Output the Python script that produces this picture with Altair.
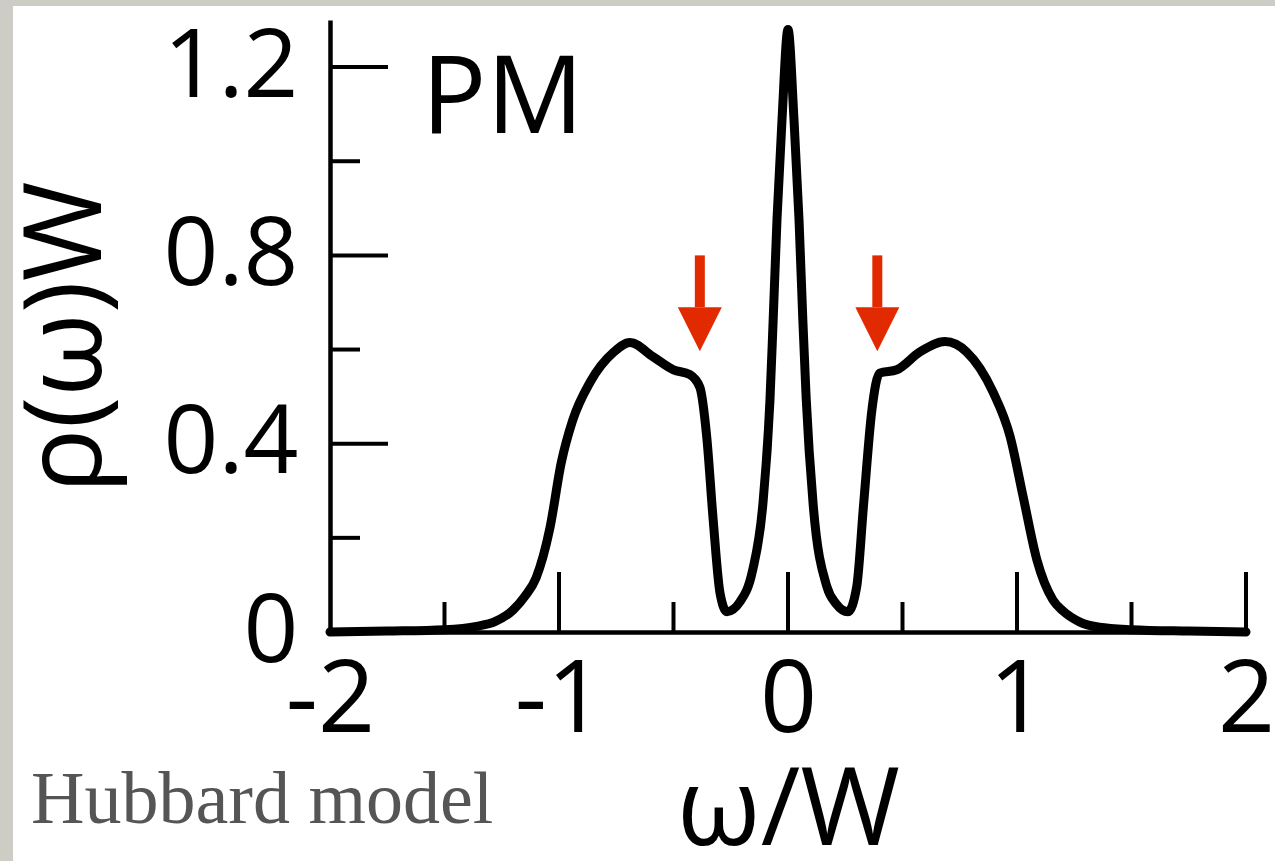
import altair as alt
import pandas as pd

# ---- data ----
omega = [-2.0, -1.75, -1.5, -1.36, -1.28, -1.2, -1.15, -1.1, -1.04, -0.99, -0.94, -0.865,
         -0.76, -0.69, -0.59, -0.5, -0.43, -0.385, -0.355, -0.327, -0.297, -0.267, -0.21,
         -0.155, -0.11, -0.079, -0.065, -0.048, -0.026, 0.0,
         0.026, 0.048, 0.065, 0.079, 0.11, 0.17, 0.21, 0.262, 0.30, 0.33, 0.366, 0.40,
         0.475, 0.576, 0.686, 0.78, 0.895, 0.97, 1.027, 1.087, 1.157, 1.2, 1.275, 1.36,
         1.5, 1.75, 2.0]
rho = [0.0, 0.002, 0.005, 0.012, 0.022, 0.047, 0.075, 0.115, 0.22, 0.36, 0.45, 0.53,
       0.595, 0.615, 0.585, 0.557, 0.547, 0.52, 0.415, 0.24, 0.083, 0.043, 0.064,
       0.13, 0.27, 0.49, 0.66, 0.877, 1.09, 1.28,
       1.09, 0.877, 0.66, 0.5, 0.27, 0.096, 0.06, 0.043, 0.096, 0.27, 0.47, 0.55,
       0.557, 0.595, 0.617, 0.595, 0.51, 0.415, 0.287, 0.153, 0.068, 0.045, 0.021, 0.01,
       0.005, 0.002, 0.0]

x_major = [-1, 0, 1, 2]
x_minor = [-1.5, -0.5, 0.5, 1.5]
y_major = [0.4, 0.8, 1.2]
y_minor = [0.2, 0.6, 1.0]
x_labels = [-2, -1, 0, 1, 2]
y_labels = [0, 0.4, 0.8, 1.2]

arrow_x = [-0.385, 0.39]
arrow_top = [0.80, 0.80]
arrow_base = [0.69, 0.69]
arrow_head = [0.643, 0.643]

W, H = 916, 612
PAD = {"left": 330, "top": 20, "right": 29, "bottom": 229}
FONT = "Open Sans"
RED = "#e22a00"

curve = pd.DataFrame({"w": omega, "r": rho})
xs = alt.Scale(domain=[-2, 2], nice=False, zero=False)
ys = alt.Scale(domain=[0, 1.3], nice=False, zero=False)

panel = alt.Chart(pd.DataFrame({"a": [0]})).mark_rect(color="white").encode(
    x=alt.value(13 - PAD["left"]), x2=alt.value(W + PAD["right"]),
    y=alt.value(6 - PAD["top"]), y2=alt.value(H + PAD["bottom"]))

line = alt.Chart(curve).mark_line(
    color="black", strokeWidth=9, interpolate="monotone", strokeJoin="round", strokeCap="round"
).encode(
    x=alt.X("w:Q", scale=xs, axis=alt.Axis(
        title="ω/W", values=x_labels, labelExpr="datum.value + ''", ticks=False, grid=False,
        labelPadding=20, labelFontSize=100, titlePadding=8, titleFontSize=108, zindex=2)),
    y=alt.Y("r:Q", scale=ys, axis=alt.Axis(
        title="ρ(ω)W", values=y_labels, labelExpr="datum.value + ''", ticks=False, grid=False,
        labelPadding=32, titleX=-262, titleY=317, titleAlign="center", titleBaseline="middle",
        titleAngle=-90, titleFontSize=108, zindex=2)),
)

def ticks_x(vals, length):
    return alt.Chart(pd.DataFrame({"v": vals})).mark_rule(color="black", strokeWidth=4).encode(
        x=alt.X("v:Q", scale=xs), y=alt.value(H), y2=alt.value(H - length))

def ticks_y(vals, length):
    return alt.Chart(pd.DataFrame({"v": vals})).mark_rule(color="black", strokeWidth=4).encode(
        y=alt.Y("v:Q", scale=ys), x=alt.value(0), x2=alt.value(length))

arrows = pd.DataFrame({"x": arrow_x, "top": arrow_top, "base": arrow_base, "head": arrow_head})
shaft = alt.Chart(arrows).mark_rule(color=RED, strokeWidth=10).encode(
    x=alt.X("x:Q", scale=xs), y=alt.Y("top:Q", scale=ys), y2="base:Q")
head = alt.Chart(arrows).mark_point(
    shape="M-1,-1L1,-1L0,1Z", filled=True, color=RED, opacity=1, size=1936, strokeWidth=0
).encode(x=alt.X("x:Q", scale=xs), y=alt.Y("head:Q", scale=ys))

pm = alt.Chart(pd.DataFrame({"x": [-1.60], "y": [1.06], "t": ["PM"]})).mark_text(
    font=FONT, fontSize=108, align="left", baseline="alphabetic", color="black"
).encode(x=alt.X("x:Q", scale=xs), y=alt.Y("y:Q", scale=ys), text="t:N")

hub = alt.Chart(pd.DataFrame({"t": ["Hubbard model"]})).mark_text(
    font="Liberation Serif", fontSize=74, align="left", baseline="alphabetic", color="#555555"
).encode(x=alt.value(31 - PAD["left"]), y=alt.value(823 - PAD["top"]), text="t:N")

chart = alt.layer(
    panel, ticks_x(x_major, 60), ticks_x(x_minor, 30), ticks_y(y_major, 58), ticks_y(y_minor, 30),
    line, shaft, head, pm, hub
).properties(
    width=W, height=H, autosize=alt.AutoSizeParams(type="none"), padding=PAD,
    background="#cdcdc5"
).configure_view(stroke=None).configure_axis(
    domainColor="black", domainWidth=4.5, labelFont=FONT, labelFontSize=96,
    labelColor="black", titleFont=FONT, titleFontSize=104, titleColor="black",
    titleFontWeight="normal", labelFlush=False, labelOverlap=False, labelBound=False
)

chart.save("out.html", embed_options={"renderer": "svg", "actions": False})
